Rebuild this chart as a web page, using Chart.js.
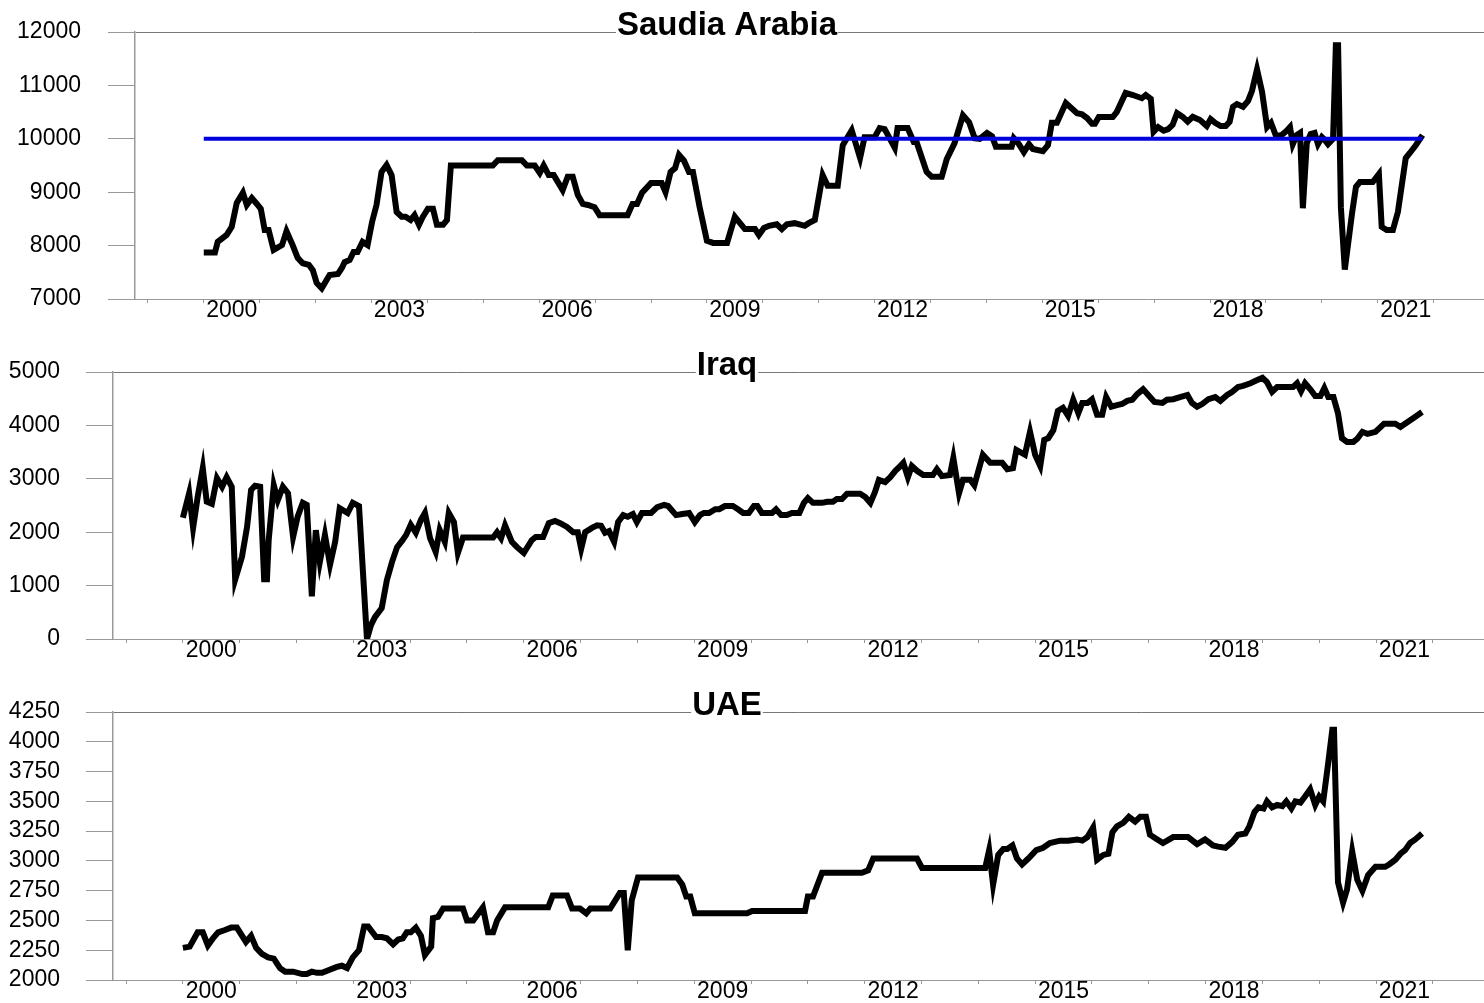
<!DOCTYPE html>
<html>
<head>
<meta charset="utf-8">
<script src="https://cdn.jsdelivr.net/npm/chart.js@4/dist/chart.umd.min.js"></script>
<style>
html,body{margin:0;padding:0;background:#fff;}
#wrap{position:relative;width:1484px;height:1003px;overflow:hidden;background:#fff;}
canvas{position:absolute;left:0;}
</style>
</head>
<body>
<div id="wrap">
<canvas id="c1" width="1484" height="340" style="top:0px;width:1484px;height:340px"></canvas>
<canvas id="c2" width="1484" height="340" style="top:340px;width:1484px;height:340px"></canvas>
<canvas id="c3" width="1484" height="323" style="top:680px;width:1484px;height:323px"></canvas>
</div>
<script>
// ---------------- DATA ----------------
const xLabelYears = [2000, 2003, 2006, 2009, 2012, 2015, 2018, 2021];

const saTitle = "Saudia Arabia";
const saTarget = 10000;
const saDates = [
 2000.00,2000.20,2000.25,2000.41,2000.50,2000.59,2000.70,2000.77,2000.86,2000.95,
 2001.02,2001.09,2001.16,2001.25,2001.40,2001.48,2001.59,2001.68,2001.77,2001.88,
 2001.95,2002.02,2002.11,2002.25,2002.40,2002.47,2002.52,2002.61,2002.68,2002.75,
 2002.84,2002.93,2003.01,2003.09,2003.18,2003.27,2003.36,2003.45,2003.54,2003.61,
 2003.70,2003.77,2003.85,2003.92,2004.01,2004.10,2004.17,2004.28,2004.35,2004.42,
 2005.17,2005.26,2005.69,2005.78,2005.92,2006.01,2006.08,2006.17,2006.26,2006.42,
 2006.51,2006.60,2006.69,2006.78,2006.87,2006.99,2007.08,2007.58,2007.67,2007.75,
 2007.84,2008.00,2008.19,2008.26,2008.35,2008.43,2008.50,2008.59,2008.68,2008.75,
 2008.87,2009.00,2009.11,2009.36,2009.50,2009.68,2009.86,2009.93,2010.02,2010.11,
 2010.25,2010.34,2010.43,2010.57,2010.75,2010.82,2010.93,2011.07,2011.16,2011.34,
 2011.43,2011.59,2011.74,2011.82,2012.00,2012.09,2012.18,2012.36,2012.41,2012.59,
 2012.70,2012.75,2012.93,2013.02,2013.20,2013.29,2013.43,2013.58,2013.69,2013.79,
 2013.88,2014.01,2014.10,2014.17,2014.45,2014.49,2014.58,2014.67,2014.76,2014.83,
 2015.01,2015.10,2015.17,2015.26,2015.42,2015.62,2015.71,2015.80,2015.89,2015.94,
 2016.01,2016.26,2016.33,2016.49,2016.62,2016.78,2016.85,2016.94,2016.99,2017.07,
 2017.17,2017.25,2017.33,2017.41,2017.51,2017.60,2017.69,2017.82,2017.94,2018.01,
 2018.09,2018.19,2018.28,2018.35,2018.41,2018.48,2018.59,2018.68,2018.75,2018.84,
 2018.93,2019.02,2019.09,2019.18,2019.28,2019.37,2019.43,2019.48,2019.55,2019.61,
 2019.66,2019.73,2019.80,2019.87,2019.93,2020.00,2020.05,2020.11,2020.20,2020.25,
 2020.29,2020.34,2020.41,2020.54,2020.61,2020.68,2020.91,2021.02,2021.07,2021.16,
 2021.27,2021.36,2021.50,2021.57,2021.68,2021.80
];
const saValues = [
 7870,7870,8070,8200,8350,8800,8990,8760,8890,8780,
 8690,8290,8290,7920,8010,8270,8010,7770,7670,7640,
 7540,7300,7200,7450,7470,7580,7690,7730,7880,7880,
 8070,8010,8440,8760,9380,9510,9320,8630,8540,8540,
 8480,8570,8390,8540,8690,8690,8390,8390,8480,9500,
 9500,9600,9600,9500,9500,9360,9500,9320,9320,9040,
 9290,9290,8950,8780,8760,8720,8570,8570,8780,8780,
 8990,9170,9170,9000,9380,9450,9700,9590,9380,9380,
 8720,8090,8050,8050,8540,8310,8310,8200,8330,8370,
 8400,8310,8400,8420,8370,8420,8480,9320,9120,9120,
 9880,10160,9640,10030,10030,10200,10180,9830,10200,10200,
 9940,9940,9380,9290,9290,9620,9920,10440,10310,10010,
 10000,10110,10050,9850,9850,10010,9900,9750,9900,9810,
 9770,9880,10300,10300,10670,10480,10460,10390,10280,10280,
 10410,10410,10500,10860,10820,10760,10820,10750,10130,10220,
 10150,10180,10260,10480,10410,10320,10410,10350,10240,10370,
 10300,10240,10240,10320,10600,10650,10600,10710,10900,11300,
 10880,10220,10300,10050,10070,10150,10220,9900,10070,10110,
 8700,9920,10090,10110,9900,10030,9980,9900,10000,11750,
 11750,8720,7550,8610,9100,9190,9190,9340,8350,8290,
 8290,8630,9640,9730,9880,10070
];

const iqTitle = "Iraq";
const iqDates = [
 2000.00,2000.11,2000.18,2000.26,2000.35,2000.42,2000.51,2000.60,2000.69,2000.77,
 2000.86,2000.92,2001.04,2001.13,2001.20,2001.27,2001.36,2001.43,2001.48,2001.51,
 2001.60,2001.67,2001.76,2001.85,2001.94,2002.02,2002.11,2002.18,2002.27,2002.34,
 2002.41,2002.50,2002.59,2002.68,2002.76,2002.90,2002.99,2003.10,2003.17,2003.24,
 2003.31,2003.38,2003.50,2003.59,2003.68,2003.77,2003.86,2003.93,2004.01,2004.10,
 2004.19,2004.26,2004.35,2004.45,2004.52,2004.61,2004.68,2004.77,2004.84,2004.93,
 2005.46,2005.53,2005.60,2005.67,2005.79,2005.88,2006.00,2006.14,2006.21,2006.34,
 2006.44,2006.55,2006.64,2006.76,2006.87,2006.95,2007.01,2007.08,2007.20,2007.29,
 2007.36,2007.43,2007.50,2007.59,2007.66,2007.75,2007.83,2007.92,2007.99,2008.08,
 2008.24,2008.35,2008.47,2008.54,2008.68,2008.79,2008.91,2009.01,2009.10,2009.17,
 2009.26,2009.37,2009.44,2009.54,2009.68,2009.77,2009.86,2009.96,2010.05,2010.11,
 2010.19,2010.37,2010.44,2010.53,2010.63,2010.72,2010.85,2010.93,2011.00,2011.09,
 2011.25,2011.34,2011.44,2011.51,2011.60,2011.69,2011.92,2012.01,2012.10,2012.18,
 2012.25,2012.36,2012.45,2012.54,2012.61,2012.68,2012.76,2012.83,2012.92,2013.03,
 2013.20,2013.27,2013.36,2013.50,2013.56,2013.66,2013.73,2013.86,2013.93,2014.08,
 2014.21,2014.42,2014.51,2014.61,2014.67,2014.82,2014.91,2015.00,2015.09,2015.16,
 2015.23,2015.32,2015.40,2015.49,2015.58,2015.67,2015.76,2015.83,2015.92,2016.00,
 2016.09,2016.18,2016.25,2016.34,2016.44,2016.53,2016.62,2016.71,2016.80,2016.90,
 2016.99,2017.10,2017.24,2017.32,2017.43,2017.55,2017.68,2017.76,2017.85,2017.94,
 2018.05,2018.17,2018.26,2018.38,2018.47,2018.57,2018.66,2018.79,2018.91,2019.00,
 2019.08,2019.17,2019.26,2019.54,2019.61,2019.68,2019.75,2019.84,2019.93,2020.02,
 2020.09,2020.16,2020.25,2020.33,2020.40,2020.49,2020.60,2020.67,2020.76,2020.85,
 2020.99,2021.04,2021.14,2021.34,2021.43,2021.51,2021.66,2021.81
];
const iqValues = [
 2270,2730,2080,2660,3200,2570,2530,3010,2850,3030,
 2850,1110,1540,2100,2790,2870,2850,1120,1120,1850,
 2880,2600,2850,2730,1910,2290,2550,2510,800,2040,
 1440,1950,1390,1820,2450,2360,2550,2490,1240,0,
 260,410,580,1100,1440,1720,1840,1950,2140,1990,
 2230,2360,1890,1630,2040,1820,2360,2190,1610,1900,
 1900,2000,1890,2130,1820,1720,1610,1850,1910,1910,
 2170,2210,2170,2100,2000,2000,1690,2000,2080,2130,
 2120,1990,2020,1820,2190,2320,2290,2340,2190,2360,
 2360,2470,2510,2490,2320,2340,2360,2190,2320,2360,
 2360,2430,2430,2490,2490,2430,2360,2360,2490,2490,
 2360,2360,2430,2320,2320,2360,2360,2550,2640,2550,
 2550,2570,2570,2620,2620,2720,2720,2660,2550,2750,
 2980,2940,3030,3150,3220,3300,3030,3240,3150,3070,
 3070,3180,3050,3070,3390,2730,2980,2980,2880,3450,
 3300,3300,3180,3200,3540,3450,3880,3450,3240,3730,
 3760,3910,4270,4330,4180,4480,4230,4420,4420,4490,
 4200,4200,4530,4350,4380,4400,4460,4480,4590,4680,
 4570,4440,4420,4480,4490,4530,4570,4420,4350,4400,
 4490,4530,4460,4570,4630,4720,4740,4790,4850,4890,
 4810,4630,4720,4720,4790,4640,4790,4680,4550,4550,
 4700,4530,4530,4230,3760,3690,3690,3750,3880,3840,
 3880,3930,4030,4030,3970,4030,4140,4250
];

const uaeTitle = "UAE";
const uaeDates = [
 2000.00,2000.12,2000.26,2000.35,2000.44,2000.53,2000.62,2000.74,2000.85,2000.95,
 2001.11,2001.20,2001.29,2001.39,2001.50,2001.60,2001.71,2001.80,2001.94,2002.10,
 2002.18,2002.27,2002.36,2002.45,2002.55,2002.71,2002.80,2002.89,2002.99,2003.10,
 2003.19,2003.26,2003.40,2003.50,2003.59,2003.70,2003.79,2003.87,2003.94,2004.01,
 2004.10,2004.19,2004.26,2004.37,2004.40,2004.49,2004.58,2004.93,2005.00,2005.11,
 2005.28,2005.37,2005.46,2005.53,2005.67,2006.43,2006.51,2006.76,2006.85,2006.99,
 2007.10,2007.17,2007.52,2007.69,2007.76,2007.83,2007.90,2008.01,2008.70,2008.79,
 2008.86,2008.93,2009.01,2009.93,2010.02,2010.95,2011.00,2011.09,2011.25,2011.95,
 2012.06,2012.15,2012.92,2013.01,2014.12,2014.19,2014.26,2014.35,2014.44,2014.51,
 2014.60,2014.68,2014.77,2014.88,2015.02,2015.14,2015.26,2015.44,2015.58,2015.74,
 2015.83,2015.92,2016.02,2016.09,2016.20,2016.29,2016.36,2016.44,2016.55,2016.65,
 2016.76,2016.85,2016.95,2017.02,2017.15,2017.25,2017.43,2017.69,2017.85,2017.99,
 2018.13,2018.22,2018.35,2018.47,2018.57,2018.70,2018.77,2018.86,2018.93,2019.02,
 2019.08,2019.17,2019.26,2019.35,2019.42,2019.51,2019.58,2019.67,2019.75,2019.84,
 2019.93,2020.00,2020.07,2020.16,2020.23,2020.26,2020.33,2020.42,2020.49,2020.58,
 2020.67,2020.76,2020.86,2020.99,2021.16,2021.23,2021.34,2021.43,2021.51,2021.60,
 2021.69,2021.81
];
const uaeValues = [
 2270,2280,2400,2400,2290,2350,2400,2420,2440,2440,
 2320,2370,2270,2220,2190,2180,2100,2070,2070,2050,
 2050,2070,2060,2060,2080,2110,2120,2100,2190,2250,
 2450,2450,2360,2360,2350,2300,2340,2350,2400,2400,
 2440,2370,2210,2280,2520,2530,2600,2600,2500,2500,
 2610,2400,2400,2500,2610,2610,2710,2710,2600,2600,
 2560,2600,2600,2730,2730,2250,2670,2860,2860,2800,
 2700,2700,2560,2560,2580,2580,2700,2700,2900,2900,
 2920,3020,3020,2940,2940,3090,2800,3050,3100,3100,
 3130,3020,2970,3020,3090,3110,3150,3170,3170,3180,
 3170,3200,3280,3010,3050,3060,3240,3290,3320,3370,
 3330,3370,3370,3220,3180,3150,3200,3200,3140,3180,
 3130,3120,3110,3160,3220,3230,3290,3410,3450,3440,
 3500,3450,3470,3460,3500,3440,3500,3490,3540,3600,
 3470,3540,3500,3830,4100,4100,2820,2650,2760,3080,
 2840,2750,2880,2950,2950,2970,3010,3060,3090,3150,
 3180,3230
];

// ---------------- DRAWING ----------------
const FONT = "'Liberation Sans', Arial, Helvetica, sans-serif";
const X_MIN = 1998.77, X_MAX = 2022.9;

const titlePlugin = {
  id: 'panelTitle',
  afterDraw(chart, args, opts) {
    const ctx = chart.ctx;
    ctx.save();
    ctx.font = 'bold 33px ' + FONT;
    const w = ctx.measureText(opts.text).width;
    ctx.fillStyle = '#ffffff';
    ctx.fillRect(opts.x - w / 2 - 1, 6, w + 2, 40);
    ctx.fillStyle = '#000000';
    ctx.textAlign = 'center';
    ctx.textBaseline = 'alphabetic';
    ctx.fillText(opts.text, opts.x, 35);
    ctx.restore();
  }
};

function makePanel(id, cfg) {
  const datasets = [];
  if (cfg.ref !== undefined) {
    datasets.push({
      data: [{x: cfg.dates[0], y: cfg.ref}, {x: cfg.dates[cfg.dates.length - 1], y: cfg.ref}],
      borderColor: '#0000dd', borderWidth: 4, pointRadius: 0, order: 0, tension: 0
    });
  }
  datasets.push({
    data: cfg.dates.map((t, i) => ({x: t, y: cfg.values[i]})),
    borderColor: '#000000', borderWidth: 6, pointRadius: 0, tension: 0,
    borderJoinStyle: 'miter', borderCapStyle: 'butt', order: 1
  });
  new Chart(document.getElementById(id), {
    type: 'line',
    data: {datasets},
    plugins: [titlePlugin],
    options: {
      responsive: false, animation: false, devicePixelRatio: 1,
      layout: {padding: {top: 32, left: 0, right: 0, bottom: 0}},
      plugins: {
        legend: {display: false}, tooltip: {enabled: false},
        panelTitle: {text: cfg.title, x: 727}
      },
      scales: {
        x: {
          type: 'linear', min: X_MIN, max: X_MAX,
          afterBuildTicks: (s) => {
            const t = [];
            for (let v = 1999; v <= 2022.5; v += 0.5) t.push({value: v});
            s.ticks = t;
          },
          afterFit: (s) => {
            s.height = cfg.bottomH;
            s.paddingLeft = 0; s.paddingRight = 0; s.paddingTop = 0; s.paddingBottom = 0;
          },
          grid: {
            drawOnChartArea: false, drawTicks: true, tickLength: 4, tickWidth: 1,
            tickColor: (c) => (c.tick && Number.isInteger(c.tick.value)) ? '#999999' : 'rgba(0,0,0,0)'
          },
          border: {display: true, color: '#999999', width: 1},
          ticks: {
            autoSkip: false, maxRotation: 0, minRotation: 0, padding: -6,
            color: '#000000', font: {family: FONT, size: 23},
            callback: (v) => {
              const y = Math.floor(v);
              return (v - y === 0.5 && xLabelYears.includes(y)) ? String(y) : '';
            }
          }
        },
        y: {
          type: 'linear', min: cfg.yMin, max: cfg.yMax,
          afterFit: (s) => {
            s.width = cfg.leftW;
            s.paddingTop = 0; s.paddingBottom = 0; s.paddingLeft = 0; s.paddingRight = 0;
          },
          grid: {
            drawOnChartArea: true, drawTicks: true, tickLength: 27, lineWidth: 1,
            color: (c) => (c.tick && c.tick.value === cfg.yMax) ? '#777777' : 'rgba(0,0,0,0)',
            tickColor: '#999999'
          },
          border: {display: true, color: '#999999', width: 1.5},
          ticks: {
            autoSkip: false, stepSize: cfg.yStep, padding: cfg.labelPad,
            color: '#000000', font: {family: FONT, size: 23},
            callback: (v) => String(v)
          }
        }
      }
    }
  });
}

makePanel('c1', {title: saTitle, dates: saDates, values: saValues, ref: saTarget,
  yMin: 7000, yMax: 12000, yStep: 1000, leftW: 135, labelPad: 27, bottomH: 41});
makePanel('c2', {title: iqTitle, dates: iqDates, values: iqValues,
  yMin: 0, yMax: 5000, yStep: 1000, leftW: 113, labelPad: 26, bottomH: 41});
makePanel('c3', {title: uaeTitle, dates: uaeDates, values: uaeValues,
  yMin: 2000, yMax: 4250, yStep: 250, leftW: 113, labelPad: 26, bottomH: 23});
</script>
</body>
</html>
